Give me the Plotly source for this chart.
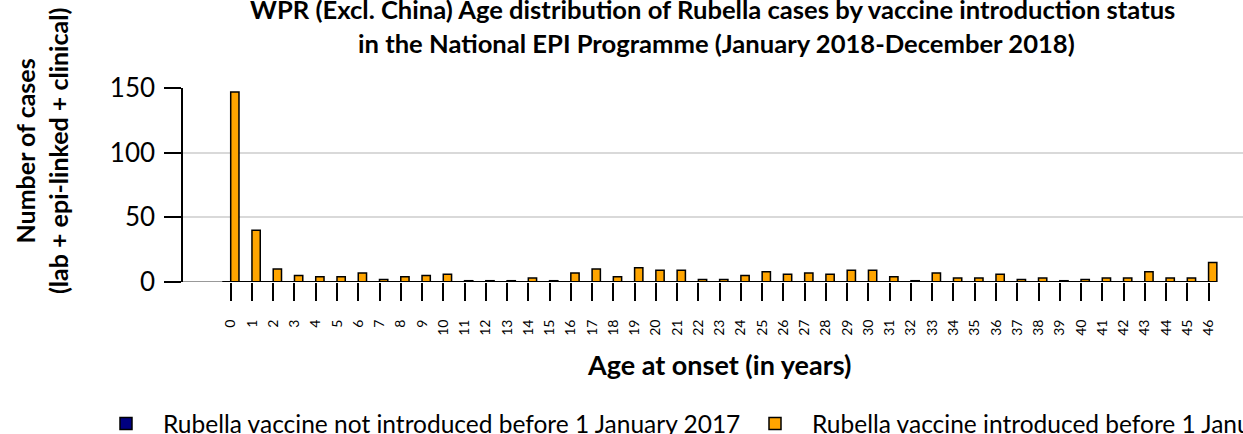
import plotly.graph_objects as go

# Age at onset (years) and case counts by vaccine introduction status
ages = list(range(0, 47))
age_labels = [str(a) for a in ages]
not_introduced = [0] * 47
introduced = [147, 40, 10, 5, 4, 4, 7, 2, 4, 5,
              6, 1, 1, 1, 3, 1, 7, 10, 4, 11,
              9, 9, 2, 2, 5, 8, 6, 7, 6, 9,
              9, 4, 1, 7, 3, 3, 6, 2, 3, 1,
              2, 3, 3, 8, 3, 3, 15]

series_names = ["Rubella vaccine not introduced before 1 January 2017",
                "Rubella vaccine introduced before 1 January 2017"]
title_lines = ["WPR (Excl. China) Age distribution of Rubella cases by vaccine introduction status",
               "in the National EPI Programme (January 2018-December 2018)"]

FONT = "Lato"
W, H = 1243, 434
ML, MR, MT, MB = 183, 0, 88, 152
PW, PH = W - ML - MR, H - MT - MB


def px_x(px):
    return (px - ML) / PW


def px_y(py):
    return (H - MB - py) / PH


fig = go.Figure()
fig.add_trace(go.Bar(
    x=ages, y=not_introduced, name=series_names[0],
    marker=dict(color="#000080", line=dict(color="black", width=1.5)),
    cliponaxis=False, legend="legend",
))
fig.add_trace(go.Bar(
    x=ages, y=introduced, name=series_names[1],
    marker=dict(color="#FFA500", line=dict(color="black", width=1.5)),
    cliponaxis=False, legend="legend2",
))

# category axis baseline
fig.add_shape(type="line", xref="x", yref="y", x0=-2.244, x1=46.4, y0=0, y1=0,
              line=dict(color="#333333", width=1))
fig.add_shape(type="line", xref="x", yref="y", x0=-0.39, x1=46.39, y0=0, y1=0,
              line=dict(color="black", width=2))

legend_style = dict(
    orientation="h", xanchor="left", y=px_y(401), yanchor="top", itemwidth=64,
    font=dict(family=FONT, size=24.5, color="black"), bgcolor="rgba(0,0,0,0)",
)

fig.update_layout(
    width=W, height=H,
    margin=dict(l=ML, r=MR, t=MT, b=MB, autoexpand=False),
    paper_bgcolor="white", plot_bgcolor="white",
    barmode="group", bargap=0.22, bargroupgap=0,
    font=dict(family=FONT, color="black"),
    showlegend=True,
    xaxis=dict(
        range=[-2.244, 47.62], tickmode="array", tickvals=ages, ticktext=age_labels,
        tickangle=-90, ticks="outside", ticklen=18, tickwidth=1.5, tickcolor="black",
        ticklabelstandoff=13, tickfont=dict(family=FONT, size=14, color="black"),
        showgrid=False, zeroline=False, showline=False,
    ),
    yaxis=dict(
        range=[0, 150], tickvals=[0, 50, 100, 150],
        ticks="outside", ticklen=17, tickwidth=1.5, tickcolor="black",
        showline=True, linecolor="black", linewidth=1.5,
        showgrid=True, gridcolor="#d9d9d9", gridwidth=1.5, zeroline=False,
        tickfont=dict(family=FONT, size=26, color="black"),
        ticklabelstandoff=4,
    ),
    legend=dict(x=px_x(89), **legend_style),
    legend2=dict(x=px_x(738), **legend_style),
    annotations=[
        dict(text="<b>" + title_lines[0] + "</b>", xref="paper", yref="paper",
             x=px_x(712), y=px_y(9), xanchor="center", yanchor="middle",
             showarrow=False, font=dict(family=FONT, size=25.6, color="black")),
        dict(text="<b>" + title_lines[1] + "</b>", xref="paper", yref="paper",
             x=px_x(716), y=px_y(43), xanchor="center", yanchor="middle",
             showarrow=False, font=dict(family=FONT, size=25.6, color="black")),
        dict(text="<b>Number of cases<br>(lab + epi-linked + clinical)</b>",
             textangle=-90, xref="paper", yref="paper",
             x=px_x(41), y=px_y(151), xanchor="center", yanchor="middle",
             showarrow=False, font=dict(family=FONT, size=25, color="black")),
        dict(text="<b>Age at onset (in years)</b>",
             xref="paper", yref="paper",
             x=px_x(719), y=px_y(364), xanchor="center", yanchor="middle",
             showarrow=False, font=dict(family=FONT, size=27, color="black")),
    ],
)

fig.write_html("out.html")
